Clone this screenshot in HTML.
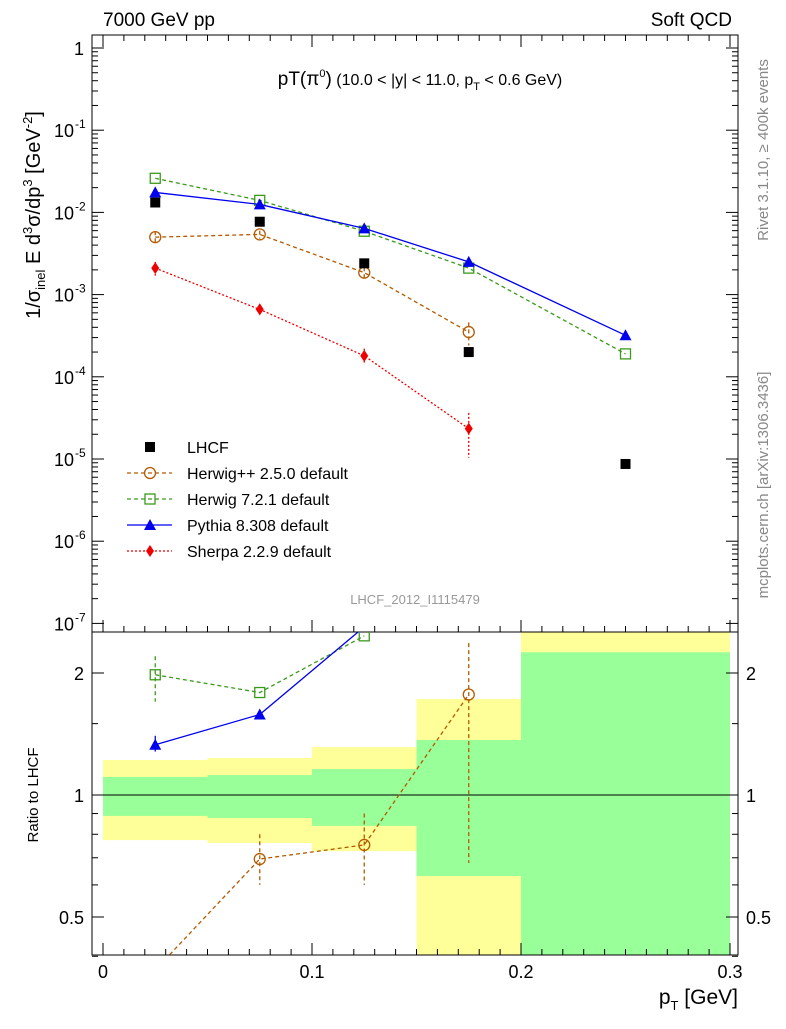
<!DOCTYPE html>
<html><head><meta charset="utf-8"><style>
body{margin:0;background:#fff;}
svg{font-family:"Liberation Sans","DejaVu Sans",sans-serif;}
</style></head><body>
<svg id="c" width="786" height="1024" viewBox="0 0 786 1024" xmlns="http://www.w3.org/2000/svg"></svg>
<script>
const xs=[0.025,0.075,0.125,0.175,0.25];
const lhcf=[0.0132,0.0077,0.0024,0.0002,8.7e-6];
const herwigpp=[0.0050,0.0054,0.00185,0.00035];
const herwigppErr=[0.0009,0.0006,0.0003,0.00011];
const herwig7=[0.026,0.014,0.0059,0.0021,0.00019];
const pythia=[0.0175,0.0125,0.0064,0.0025,0.00032];
const sherpa=[0.0021,0.00066,0.00018,0.0000234];
const sherpaErr=[0.0004,0.00011,0.00004,0.000013];
const rHerwigpp=[0.37,0.695,0.753,1.77];
const rHerwigppLo=[0.37,0.60,0.60,0.68];
const rHerwigppHi=[0.37,0.80,0.90,2.37];
const rHerwig7=[1.98,1.79,2.47];
const rHerwig7Lo=[1.7,1.79,2.47];
const rHerwig7Hi=[2.2,1.79,2.47];
const rPythia=[1.33,1.58,2.6];
const rPythiaLo=[1.28,1.54,2.6];
const rPythiaHi=[1.40,1.62,2.6];
const binEdges=[0,0.05,0.1,0.15,0.2,0.3];
const yelHi=[1.22,1.234,1.313,1.725,3.0];
const grnHi=[1.108,1.12,1.159,1.367,2.25];
const grnLo=[0.888,0.877,0.839,0.631,0.3];
const yelLo=[0.774,0.761,0.727,0.3,0.3];
const mainTicks=["1","10","10","10","10","10","10","10"];
const mainExp=["","-1","-2","-3","-4","-5","-6","-7"];
const xTicks=[0,0.1,0.2,0.3];
const xTickLabels=["0","0.1","0.2","0.3"];
const rTicks=[2,1,0.5];
const rTickLabels=["2","1","0.5"];

const svg=document.getElementById('c');
const NS="http://www.w3.org/2000/svg";
const L=92,R=738,T=35,MB=632,RB=955;
const X=v=>103+v*2090;
const Y=v=>48-Math.log10(v)*82.2;
const RY=v=>795-Math.log2(v)*122;
function el(t,a,p){const e=document.createElementNS(NS,t);for(const k in a)e.setAttribute(k,a[k]);(p||svg).appendChild(e);return e;}
function txt(s,a,p){const e=el('text',a,p);e.textContent=s;return e;}

const defs=el('defs',{});
const c1=el('clipPath',{id:'cm'},defs);el('rect',{x:L,y:T,width:R-L,height:MB-T},c1);
const c2=el('clipPath',{id:'cr'},defs);el('rect',{x:L,y:MB,width:R-L,height:RB-MB},c2);

const gb=el('g',{'clip-path':'url(#cr)'});

for(let i=0;i<5;i++){
 const x0=X(binEdges[i]),x1=X(binEdges[i+1]);
 let r=el('rect',{x:x0,y:RY(yelHi[i]),width:x1-x0,height:RY(yelLo[i])-RY(yelHi[i]),fill:'#ffff99'},gb);
 
 r=el('rect',{x:x0,y:RY(grnHi[i]),width:x1-x0,height:RY(grnLo[i])-RY(grnHi[i]),fill:'#99ff99'},gb);
 
}
el('line',{x1:L,x2:R,y1:RY(1),y2:RY(1),stroke:'#000','stroke-width':1});

let f=el('rect',{x:L,y:T,width:R-L,height:MB-T,fill:'none',stroke:'#000'});

f=el('rect',{x:L,y:MB,width:R-L,height:RB-MB,fill:'none',stroke:'#000'});


for(let d=0;d<=7;d++){
 const y=Y(Math.pow(10,-d));
 el('line',{x1:L,x2:L+12,y1:y,y2:y,stroke:'#000'});el('line',{x1:R,x2:R-12,y1:y,y2:y,stroke:'#000'});
 if(d<7)for(let m=2;m<10;m++){const ym=Y(m*Math.pow(10,-d-1));el('line',{x1:L,x2:L+6,y1:ym,y2:ym,stroke:'#000'});el('line',{x1:R,x2:R-6,y1:ym,y2:ym,stroke:'#000'});}
 const t=txt(mainTicks[d],{x:d==0?84:74,y:y+7,'font-size':18,'text-anchor':'end'});
 
 if(mainExp[d])txt(mainExp[d],{x:75,y:y-2,'font-size':12});
}
xTicks.forEach((v,i)=>{const x=X(v);
 el('line',{x1:x,x2:x,y1:RB,y2:RB-12,stroke:'#000'});el('line',{x1:x,x2:x,y1:MB,y2:MB-12,stroke:'#000'});el('line',{x1:x,x2:x,y1:T,y2:T+12,stroke:'#000'});
 const t=txt(xTickLabels[i],{x:x,y:978,'font-size':18,'text-anchor':'middle'});
 
});
for(let v=0.01;v<0.3;v+=0.01){if(Math.abs(v*10-Math.round(v*10))<1e-6)continue;const x=X(v);
 el('line',{x1:x,x2:x,y1:RB,y2:RB-6,stroke:'#000'});el('line',{x1:x,x2:x,y1:MB,y2:MB-6,stroke:'#000'});el('line',{x1:x,x2:x,y1:T,y2:T+6,stroke:'#000'});}
rTicks.forEach((v,i)=>{const y=RY(v);
 el('line',{x1:L,x2:L+12,y1:y,y2:y,stroke:'#000'});el('line',{x1:R,x2:R-12,y1:y,y2:y,stroke:'#000'});
 let t=txt(rTickLabels[i],{x:84,y:y+7,'font-size':18,'text-anchor':'end'});
 t=txt(rTickLabels[i],{x:746,y:y+7,'font-size':18});
});
[0.4,0.6,0.7,0.8,0.9,1.5].forEach(v=>{const y=RY(v);el('line',{x1:L,x2:L+6,y1:y,y2:y,stroke:'#000'});el('line',{x1:R,x2:R-6,y1:y,y2:y,stroke:'#000'});});

function marker(g,type,x,y,col){
 if(type=='circle')el('circle',{cx:x,cy:y,r:5.5,fill:'none',stroke:col,'stroke-width':1.3},g);
 else if(type=='square')el('rect',{x:x-5,y:y-5,width:10,height:10,fill:'none',stroke:col,'stroke-width':1.3},g);
 else if(type=='tri')el('polygon',{points:`${x},${y-6} ${x-6},${y+5} ${x+6},${y+5}`,fill:col},g);
 else if(type=='diamond')el('polygon',{points:`${x},${y-6} ${x-4},${y} ${x},${y+6} ${x+4},${y}`,fill:col},g);
 else if(type=='fsquare')el('rect',{x:x-5,y:y-5,width:10,height:10,fill:col},g);
}
function series(name,vals,err,type,col,dash,yf,clip,lo,hi){
 const g=el('g',{'clip-path':clip});
 
 if(dash!==null){const pts=vals.map((v,i)=>X(xs[i])+','+yf(v)).join(' ');el('polyline',{points:pts,fill:'none',stroke:col,'stroke-width':1.3,'stroke-dasharray':dash},g);}
 vals.forEach((v,i)=>{const x=X(xs[i]);
  let a=null,b=null;
  if(err){a=yf(v+err[i]);b=yf(Math.max(v-err[i],v*0.4));}
  if(lo){a=yf(hi[i]);b=yf(lo[i]);}
  if(a!==null&&Math.abs(b-a)>2)el('line',{x1:x,x2:x,y1:a,y2:b,stroke:col,'stroke-width':1.3,'stroke-dasharray':dash&&dash!='none'?dash:'none'},g);
  marker(g,type,x,yf(v),col);});
}
const BR='#b35a00',GR='#3a9a1a',BL='#0000ee',RD='#ee0000';
series('herwigpp-series',herwigpp,herwigppErr,'circle',BR,'4,3',Y,'url(#cm)');
series('herwig7-series',herwig7,null,'square',GR,'4,3',Y,'url(#cm)');
series('pythia-series',pythia,null,'tri',BL,'none',Y,'url(#cm)');
series('sherpa-series',sherpa,sherpaErr,'diamond',RD,'2,2',Y,'url(#cm)');
series('lhcf-data',lhcf,null,'fsquare','#000',null,Y,'url(#cm)');
series('ratio-herwigpp',rHerwigpp,null,'circle',BR,'4,3',RY,'url(#cr)',rHerwigppLo,rHerwigppHi);
series('ratio-herwig7',rHerwig7,null,'square',GR,'4,3',RY,'url(#cr)',rHerwig7Lo,rHerwig7Hi);
series('ratio-pythia',rPythia,null,'tri',BL,'none',RY,'url(#cr)',rPythiaLo,rPythiaHi);

const leg=[['LHCF','fsquare','#000',null],['Herwig++ 2.5.0 default','circle',BR,'4,3'],['Herwig 7.2.1 default','square',GR,'4,3'],['Pythia 8.308 default','tri',BL,'none'],['Sherpa 2.2.9 default','diamond',RD,'2,2']];
leg.forEach((l,i)=>{const y=447+i*26;const g=el('g',{});
 
 if(l[3])el('line',{x1:127,x2:172,y1:y,y2:y,stroke:l[2],'stroke-width':1.3,'stroke-dasharray':l[3]},g);
 marker(g,l[1],150,y,l[2]);
 txt(l[0],{x:187,y:y+6,'font-size':16},g);});

let t=txt('7000 GeV pp',{x:103,y:26,'font-size':19});
t=txt('Soft QCD',{x:732,y:26,'font-size':19,'text-anchor':'end'});
t=el('text',{x:420,y:85,'font-size':16,'text-anchor':'middle'});t.innerHTML='<tspan font-size="19">pT(π</tspan><tspan font-size="11" dy="-8">0</tspan><tspan font-size="19" dy="8">)</tspan> (10.0 &lt; |y| &lt; 11.0, p<tspan font-size="11" dy="5">T</tspan><tspan dy="-5"> &lt; 0.6 GeV)</tspan>';

t=txt('LHCF_2012_I1115479',{x:415,y:604,'font-size':13,fill:'#999','text-anchor':'middle'});
t=txt('Rivet 3.1.10, ≥ 400k events',{x:0,y:0,'font-size':15,fill:'#888','text-anchor':'middle',transform:'translate(768,150) rotate(-90)'});
t=txt('mcplots.cern.ch [arXiv:1306.3436]',{x:0,y:0,'font-size':15,fill:'#888','text-anchor':'middle',transform:'translate(768,485) rotate(-90)'});
t=el('text',{x:0,y:0,'font-size':20,'text-anchor':'middle',transform:'translate(40,215) rotate(-90)'});
t.innerHTML='1/σ<tspan font-size="13" dy="5">inel</tspan><tspan dy="-5"> E d</tspan><tspan font-size="13" dy="-8">3</tspan><tspan dy="8">σ/dp</tspan><tspan font-size="13" dy="-8">3</tspan><tspan dy="8"> [GeV</tspan><tspan font-size="13" dy="-8">-2</tspan><tspan dy="8">]</tspan>';

t=txt('Ratio to LHCF',{x:0,y:0,'font-size':15,'text-anchor':'middle',transform:'translate(38,795) rotate(-90)'});
t=el('text',{x:738,y:1004,'font-size':21,'text-anchor':'end'});t.innerHTML='p<tspan font-size="13" dy="6">T</tspan><tspan dy="-6"> [GeV]</tspan>';

</script>
</body></html>
